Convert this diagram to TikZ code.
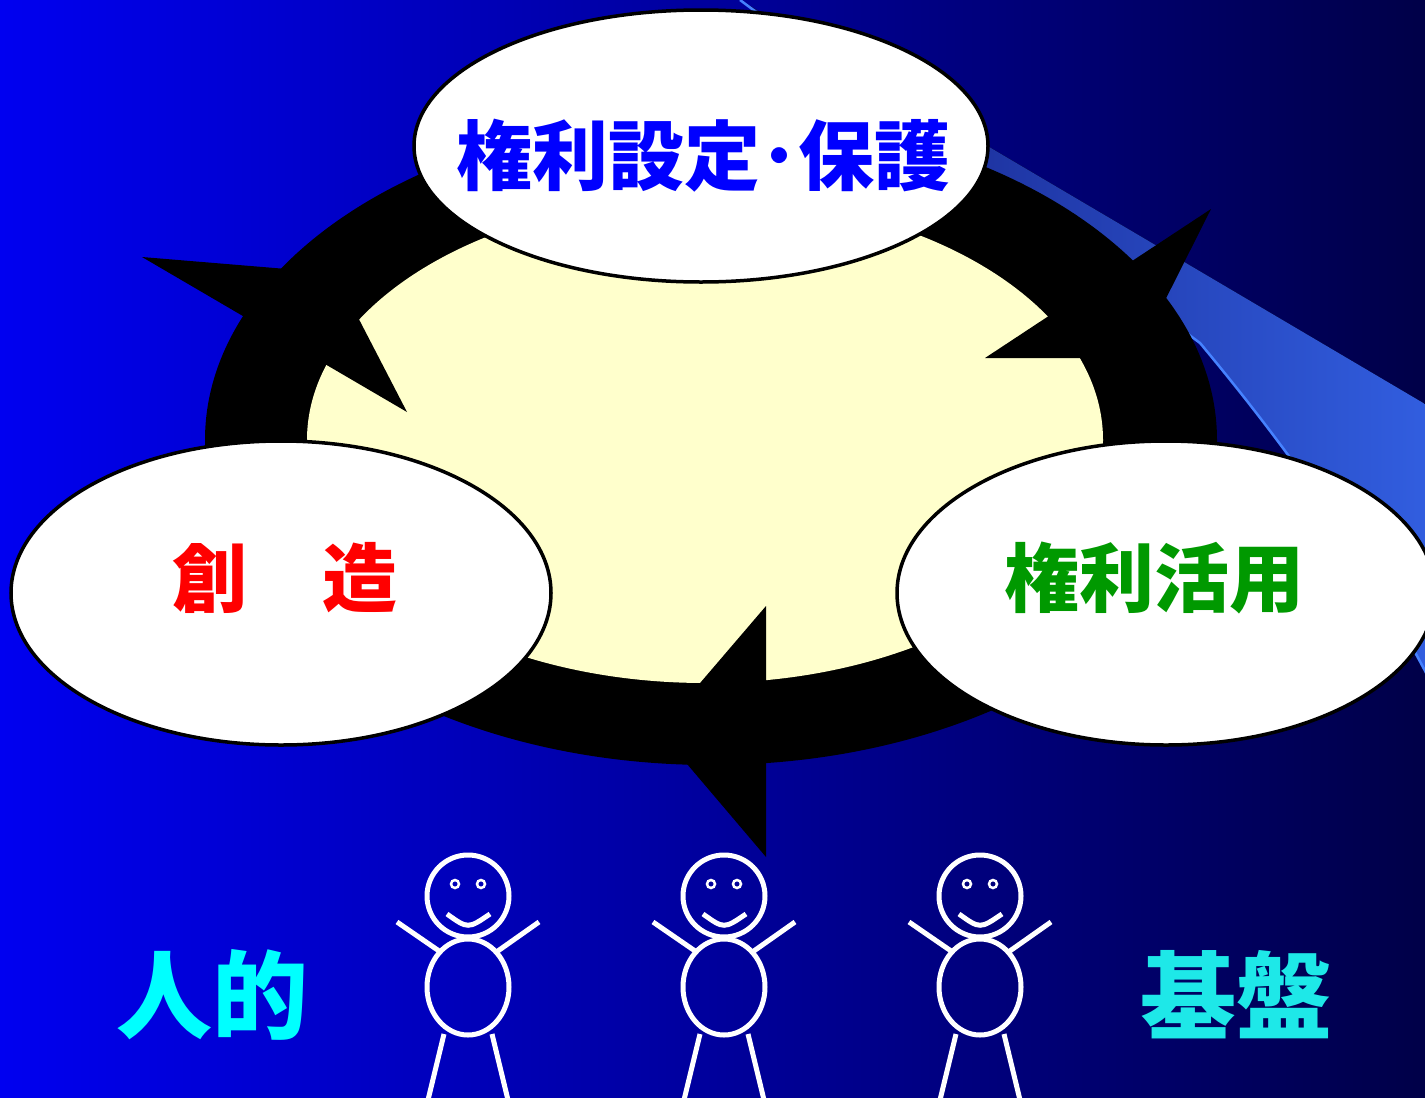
\documentclass[tikz,border=0pt]{standalone}
\usepackage{fontspec}
\newfontfamily\jp{Noto Sans CJK JP}
\definecolor{bgL}{RGB}{0,0,240}
\definecolor{bgM}{RGB}{0,0,180}
\definecolor{bgR}{RGB}{0,0,72}
\definecolor{bandL}{RGB}{20,30,130}
\definecolor{bandR}{RGB}{50,95,225}
\definecolor{glint}{RGB}{70,130,255}
\definecolor{cream}{RGB}{255,255,204}
\definecolor{tblue}{RGB}{0,0,255}
\definecolor{tred}{RGB}{255,0,0}
\definecolor{tgreen}{RGB}{0,153,0}
\definecolor{tcyan}{RGB}{0,255,255}
\definecolor{tteal}{RGB}{30,232,232}
\tikzset{
  bubble/.style={fill=white, draw=black, line width=3.5pt},
  jptext/.style={font=\jp\bfseries\fontsize{#1}{#1}\selectfont, inner sep=0pt},
  figline/.style={draw=white, line width=5pt},
}
\begin{document}
\begin{tikzpicture}[x=1pt,y=-1pt]
\useasboundingbox (0,0) rectangle (1425,1098);
\clip (0,0) rectangle (1425,1098);
% background gradient
\fill[left color=bgL, middle color=bgM, right color=bgR] (0,0) rectangle (1425,1098);
% light beam in the upper right
\fill[left color=bandL, right color=bandR]
  (740,0) -- (1425,404) -- (1440,404) -- (1440,700)
  .. controls (1370,560) and (1280,439) .. (1200,343) -- cycle;
\draw[glint, line width=2.5pt] (740,0) -- (1200,343)
  .. controls (1280,439) and (1370,560) .. (1440,700);
% the cycle ring
\fill[black] (711,440) ellipse[x radius=506pt, y radius=325pt];
\fill[cream] (705,440) ellipse[x radius=398pt, y radius=243pt];
% arrowheads of the cycle
\fill[black] (142,257) -- (407,412) -- (335,273) -- cycle;
\fill[black] (1211,209) -- (985,358) -- (1136,358) -- cycle;
\fill[black] (766,857) -- (766,606) -- (659,731) -- cycle;
% the three stages
\draw[bubble] (701,146) ellipse[x radius=287pt, y radius=136pt];
\draw[bubble] (281,593) ellipse[x radius=270pt, y radius=152pt];
\draw[bubble] (1166,593) ellipse[x radius=269pt, y radius=152pt];
\node[jptext=76, text=tblue] (protect) at (703,156) {権利設定･保護};
\node[jptext=75, text=tred] (create) at (285,578) {創　造};
\node[jptext=75, text=tgreen] (exploit) at (1154,578) {権利活用};
% the people underneath
\node[jptext=96, text=tcyan] (human) at (212,995) {人的};
\node[jptext=96, text=tteal] (base) at (1236,995) {基盤};
\foreach \cx in {468,724,980}{
  \draw[figline] (\cx,896) circle[radius=41pt];
  \draw[white, line width=2.5pt] (\cx-13,884) circle[radius=4pt];
  \draw[white, line width=2.5pt] (\cx+13,884) circle[radius=4pt];
  \draw[figline] (\cx-21,914) .. controls (\cx,929) .. (\cx+22,914);
  \draw[figline] (\cx,987) ellipse[x radius=41pt, y radius=48pt];
  \draw[figline] (\cx-71,922) -- (\cx-26,953);
  \draw[figline] (\cx+71,922) -- (\cx+27,953);
  \draw[figline] (\cx-24,1034) -- (\cx-40,1100);
  \draw[figline] (\cx+24,1034) -- (\cx+40,1100);
}
\end{tikzpicture}
\end{document}
